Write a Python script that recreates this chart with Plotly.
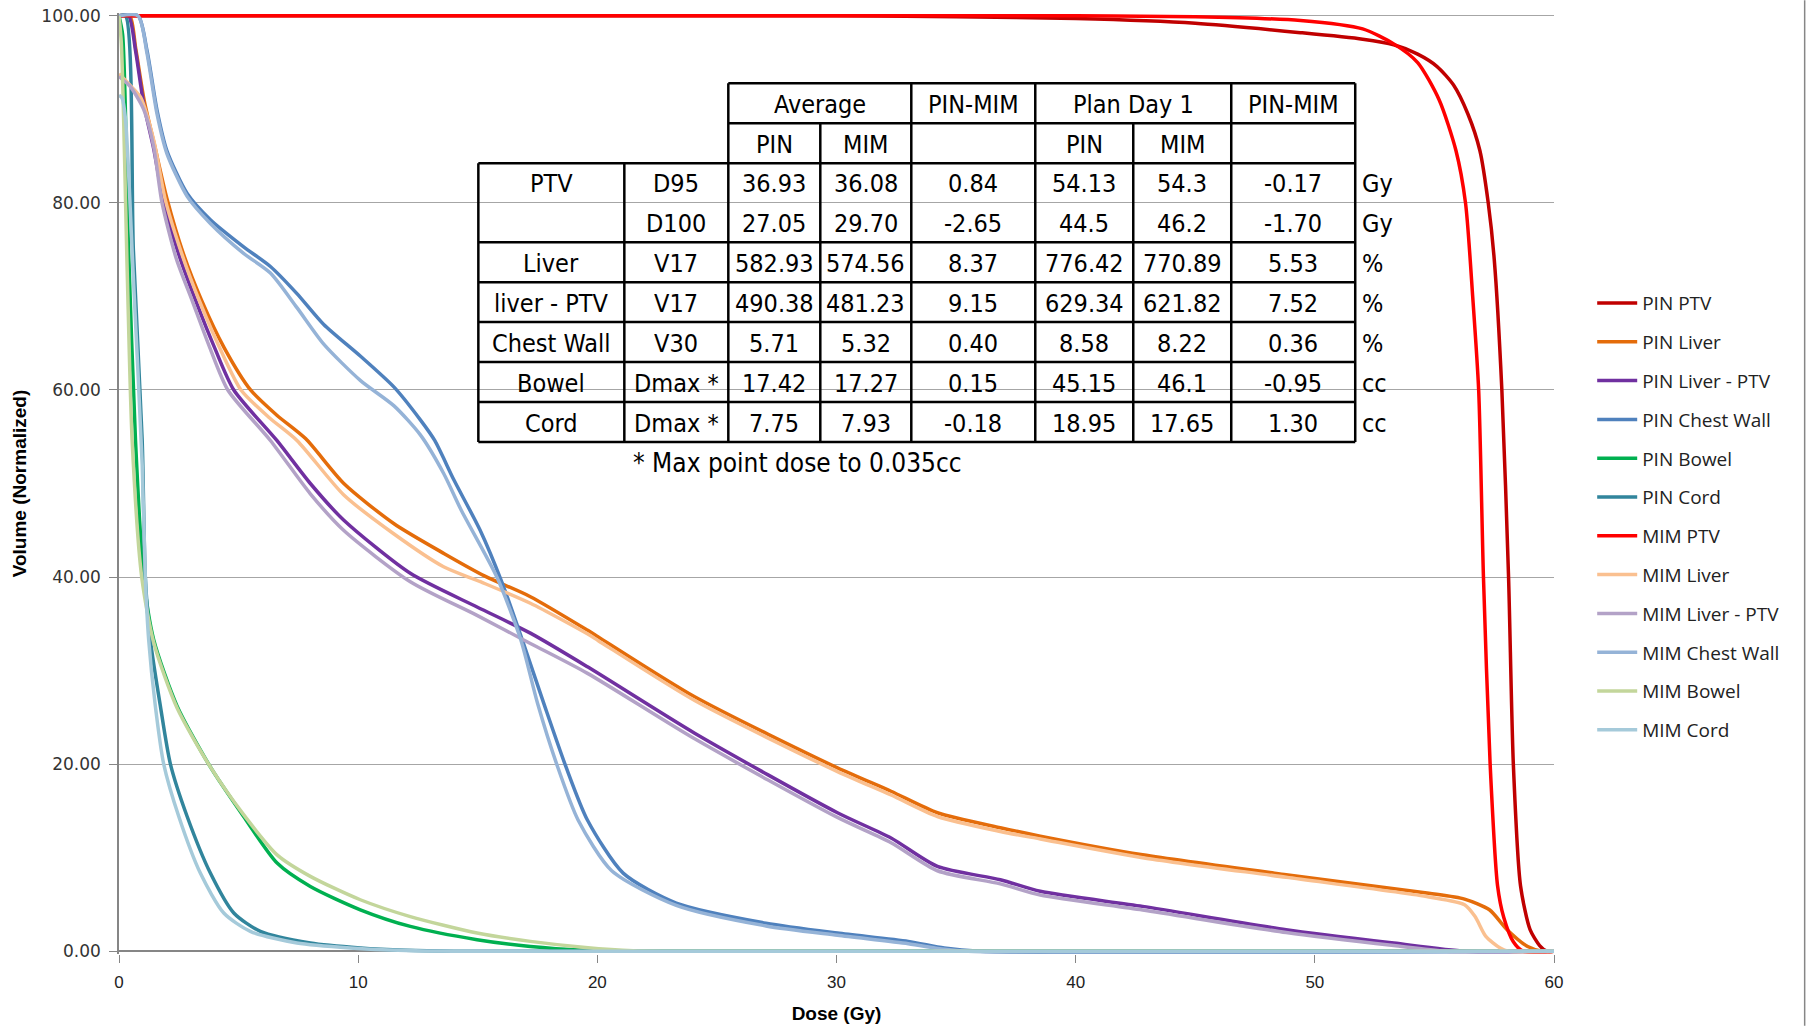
import plotly.graph_objects as go

# ---------------- data ----------------
pin_ptv_dose = [0, 30, 35, 40, 45, 49.4, 52, 53.3, 54.3, 55.1, 55.8, 56.4, 56.9, 57.25, 57.5, 57.82, 58.1, 58.3, 58.6, 59.0, 59.4, 59.7, 60]
pin_ptv_vol = [100, 100, 99.9, 99.7, 99.2, 98.2, 97.5, 96.9, 95.9, 94.6, 92.6, 89.5, 85.6, 80, 74, 60, 40, 20, 7, 2.3, 0.6, 0, 0]

pin_liver_dose = [0, 0.45, 0.7, 1.05, 1.5, 2.0, 2.7, 3.45, 4.4, 5.5, 6.6, 7.8, 9.4, 11.5, 13.6, 15.3, 17.2, 19.6, 20.04, 24.07, 30.04, 32.28, 34.22, 36.85, 38.52, 42.8, 48.8, 54.77, 56.26, 57.3, 58.04, 58.9, 59.5, 60]
pin_liver_vol = [100, 100, 96.5, 91.0, 86.0, 80.5, 74.5, 69.6, 64.5, 60, 57.3, 54.8, 50.0, 45.7, 42.5, 40.1, 37.9, 34.3, 33.6, 27.2, 19.6, 17.1, 14.8, 13.2, 12.3, 10.3, 8.17, 6.2, 5.57, 4.43, 2.3, 0.5, 0, 0]

pin_lptv_dose = [0, 0.4, 0.69, 1.03, 1.45, 1.87, 2.5, 3.2, 4.0, 4.8, 6.6, 8.0, 9.39, 12.18, 14.97, 17.2, 19.59, 24.07, 30.04, 32.28, 34.22, 36.85, 38.52, 42.8, 48.8, 53.3, 56.3, 60]
pin_lptv_vol = [100, 100, 96.3, 90.6, 85.8, 80, 74.5, 69.6, 64.5, 60, 54.6, 50.0, 46.1, 40.4, 36.8, 34.0, 30.4, 23.3, 14.8, 12.1, 9.06, 7.64, 6.4, 4.79, 2.3, 0.87, 0, 0]

pin_cw_dose = [0, 0.8, 1.17, 1.59, 2.0, 2.85, 3.82, 5.21, 6.33, 7.44, 8.56, 10.1, 11.5, 12.6, 13.2, 14.0, 15.1, 16.0, 16.9, 17.8, 18.69, 19.59, 21.08, 23.3, 27.05, 30.04, 33.0, 34.5, 36, 60]
pin_cw_vol = [100, 100, 96.3, 89.9, 85.6, 81, 78.2, 75.3, 73.2, 70.3, 67.0, 63.6, 60.3, 56.8, 54.6, 50.4, 45.0, 39.5, 33, 26.2, 19.7, 14.0, 8.35, 5.15, 3.0, 1.94, 1.05, 0.34, 0, 0]

pin_bowel_dose = [0, 0.15, 0.4, 0.69, 1.03, 1.45, 2.43, 3.82, 5.21, 6.61, 8.0, 10.09, 12.18, 14.97, 17.2, 19.5, 21, 60]
pin_bowel_vol = [100, 98, 75, 54.6, 40, 33.3, 26.2, 19.7, 14.4, 9.42, 6.92, 4.43, 2.65, 1.23, 0.51, 0.1, 0, 0]

pin_cord_dose = [0, 0.27, 0.6, 0.97, 1.1, 1.31, 1.73, 2.15, 2.85, 3.82, 4.8, 5.91, 8.0, 10.09, 12, 14, 60]
pin_cord_vol = [100, 100, 75, 54.6, 40, 33.3, 26.2, 20, 14.4, 8.35, 4.08, 2.12, 0.88, 0.35, 0.1, 0, 0]

mim_ptv_dose = [0, 40, 45, 49.4, 52, 53.3, 54.3, 55.2, 55.9, 56.3, 56.6, 56.85, 57.05, 57.33, 57.64, 57.9, 58.3, 58.7, 60]
mim_ptv_vol = [100, 100, 99.9, 99.5, 98.6, 97.0, 95.0, 91.0, 85.6, 80, 70, 60, 40, 20, 7, 3.6, 1.0, 0, 0]

mim_liver_dose = [0, 0.45, 0.9, 1.45, 1.94, 2.7, 3.35, 4.3, 5.1, 6.3, 7.44, 9.39, 11.5, 13.57, 15.11, 17.2, 19.6, 20.04, 24.07, 30.04, 32.28, 34.22, 36.85, 38.52, 42.8, 48.8, 54.77, 56.26, 56.7, 57.15, 57.75, 58.1, 60]
mim_liver_vol = [93.8, 92.6, 91.3, 86.7, 80.3, 74, 69.6, 64, 60, 57, 54.6, 48.8, 44.6, 41.1, 39.5, 37.2, 33.9, 33.2, 26.8, 19.2, 16.7, 14.4, 12.8, 12.0, 10.0, 7.9, 5.8, 4.97, 3.7, 1.58, 0.34, 0, 0]

mim_lptv_dose = [0, 0.48, 1.03, 1.45, 1.8, 2.4, 3.05, 3.8, 4.55, 6.33, 8.0, 9.39, 12.18, 14.97, 17.2, 19.59, 24.07, 30.04, 32.28, 34.22, 36.85, 38.52, 42.8, 48.8, 53.3, 55.5, 60]
mim_lptv_vol = [93.5, 92.4, 90.0, 86, 80, 74, 69.6, 64.5, 60, 54.6, 48.9, 45.0, 39.5, 35.9, 32.9, 29.7, 22.7, 14.3, 11.6, 8.6, 7.2, 6.0, 4.4, 2.0, 0.6, 0, 0]

mim_cw_dose = [0, 0.8, 1.17, 1.59, 2.0, 2.85, 3.82, 5.21, 6.33, 7.44, 8.56, 10.1, 11.5, 12.6, 13.57, 14.3, 15.8, 16.8, 17.5, 18.3, 19.2, 20.6, 23.3, 27.05, 30.04, 33.0, 34.5, 35.5, 60]
mim_cw_vol = [100, 100, 96, 89.5, 85.3, 80.7, 77.8, 74.6, 72.5, 68.8, 64.9, 61.0, 58.3, 55.2, 51.1, 47.2, 40, 33.3, 26.5, 20, 14, 8.6, 4.9, 2.7, 1.7, 0.8, 0.2, 0, 0]

mim_bowel_dose = [0, 0.1, 0.35, 0.55, 0.95, 1.45, 2.43, 3.82, 5.21, 6.61, 8.0, 10.09, 12.18, 14.97, 17.2, 19.5, 21.5, 23, 60]
mim_bowel_vol = [100, 97, 72, 54.6, 40, 33.0, 26.0, 19.7, 14.6, 10.3, 8.0, 5.5, 3.7, 1.94, 1.05, 0.4, 0.05, 0, 0]

mim_cord_dose = [0, 0.13, 0.27, 0.6, 0.97, 1.1, 1.24, 1.52, 1.87, 2.5, 3.4, 4.38, 5.49, 7.44, 9.67, 12, 14, 60]
mim_cord_vol = [91.5, 91.2, 89, 72, 52, 40, 33.3, 26.2, 20, 14.4, 8.35, 4.08, 2.12, 0.88, 0.35, 0.08, 0, 0]

series_names = ["PIN PTV", "PIN Liver", "PIN Liver - PTV", "PIN Chest Wall", "PIN Bowel", "PIN Cord",
                "MIM PTV", "MIM Liver", "MIM Liver - PTV", "MIM Chest Wall", "MIM Bowel", "MIM Cord"]
series_dose = [pin_ptv_dose, pin_liver_dose, pin_lptv_dose, pin_cw_dose, pin_bowel_dose, pin_cord_dose,
               mim_ptv_dose, mim_liver_dose, mim_lptv_dose, mim_cw_dose, mim_bowel_dose, mim_cord_dose]
series_vol = [pin_ptv_vol, pin_liver_vol, pin_lptv_vol, pin_cw_vol, pin_bowel_vol, pin_cord_vol,
              mim_ptv_vol, mim_liver_vol, mim_lptv_vol, mim_cw_vol, mim_bowel_vol, mim_cord_vol]
series_colors = ["#C00000", "#E46C0A", "#7030A0", "#4F81BD", "#00B050", "#31859C",
                 "#FF0000", "#FAC090", "#B3A2C7", "#95B3D7", "#C3D69B", "#A5CADA"]

x_ticks = [0, 10, 20, 30, 40, 50, 60]
y_ticks = [0, 20, 40, 60, 80, 100]

# table content
tbl_header1 = ["Average", "PIN-MIM", "Plan Day 1", "PIN-MIM"]
tbl_header2 = ["PIN", "MIM", "", "PIN", "MIM", ""]
tbl_struct = ["PTV", "", "Liver", "liver - PTV", "Chest Wall", "Bowel", "Cord"]
tbl_metric = ["D95", "D100", "V17", "V17", "V30", "Dmax *", "Dmax *"]
tbl_avg_pin = ["36.93", "27.05", "582.93", "490.38", "5.71", "17.42", "7.75"]
tbl_avg_mim = ["36.08", "29.70", "574.56", "481.23", "5.32", "17.27", "7.93"]
tbl_avg_diff = ["0.84", "-2.65", "8.37", "9.15", "0.40", "0.15", "-0.18"]
tbl_d1_pin = ["54.13", "44.5", "776.42", "629.34", "8.58", "45.15", "18.95"]
tbl_d1_mim = ["54.3", "46.2", "770.89", "621.82", "8.22", "46.1", "17.65"]
tbl_d1_diff = ["-0.17", "-1.70", "5.53", "7.52", "0.36", "-0.95", "1.30"]
tbl_units = ["Gy", "Gy", "%", "%", "%", "cc", "cc"]
footnote = "* Max point dose to 0.035cc"

# ---------------- layout geometry (pixels) ----------------
W, H = 1806, 1026
L, R = 118.6, 1553.8
T, B = 12.7, 954.3


def px(X):
    return (X - L) / (R - L)


def py(Y):
    return (B - Y) / (B - T)


fig = go.Figure()
for name, xs, ys, col in zip(series_names, series_dose, series_vol, series_colors):
    fig.add_trace(go.Scatter(x=xs, y=ys, name=name, mode="lines", legendgroup=name,
                             line=dict(color=col, width=3.5, shape="spline", smoothing=0.7)))

shapes = []
annots = []
TBL_FONT = "Liberation Sans Narrow, DejaVu Sans Condensed, Liberation Sans, sans-serif"
FS = 25

# white backdrop of the embedded table
shapes.append(dict(type="rect", xref="paper", yref="paper", x0=px(476), x1=px(1402), y0=py(486), y1=py(60),
                   fillcolor="white", line=dict(width=0), layer="between"))

col_x = [478, 624, 728, 820, 911, 1035, 1133, 1231, 1355]
row_y = [83, 123, 163, 202, 242, 282, 322, 362, 402, 442]
LW = 2.5


def hline(y, x0, x1, w=LW):
    shapes.append(dict(type="line", xref="paper", yref="paper", x0=px(x0), x1=px(x1), y0=py(y), y1=py(y),
                       line=dict(color="black", width=w), layer="above"))


def vline(x, y0, y1, w=LW):
    shapes.append(dict(type="line", xref="paper", yref="paper", x0=px(x), x1=px(x), y0=py(y0), y1=py(y1),
                       line=dict(color="black", width=w), layer="above"))


hline(83, 728, 1355)
hline(123, 728, 1355)
for y in [163, 242, 282, 322, 362, 402, 442]:
    hline(y, 478, 1355)
vline(478, 163, 442)
vline(624, 163, 442)
for x in [728, 911, 1035, 1231, 1355]:
    vline(x, 83, 442)
for x in [820, 1133]:
    vline(x, 123, 442)


def text(X, Y, s, anchor="center", size=FS):
    annots.append(dict(xref="paper", yref="paper", x=px(X), y=py(Y), text=s, showarrow=False,
                       xanchor=anchor, yanchor="middle", font=dict(family=TBL_FONT, size=size, color="black")))


# headers
h1_spans = [(728, 911), (911, 1035), (1035, 1231), (1231, 1355)]
for s, (a, b) in zip(tbl_header1, h1_spans):
    text((a + b) / 2, 104, s)
h2_spans = [(728, 820), (820, 911), (911, 1035), (1035, 1133), (1133, 1231), (1231, 1355)]
for s, (a, b) in zip(tbl_header2, h2_spans):
    if s:
        text((a + b) / 2, 144, s)

row_centers = [(row_y[i + 2] + row_y[i + 3]) / 2 + 1 for i in range(7)]
cols = [tbl_struct, tbl_metric, tbl_avg_pin, tbl_avg_mim, tbl_avg_diff, tbl_d1_pin, tbl_d1_mim, tbl_d1_diff]
for ci, colvals in enumerate(cols):
    cx = (col_x[ci] + col_x[ci + 1]) / 2
    for ri, s in enumerate(colvals):
        if s:
            text(cx, row_centers[ri], s)
for ri, s in enumerate(tbl_units):
    text(1360, row_centers[ri], s, anchor="left")
text(631, 463, footnote, anchor="left", size=26)

# outer chart border (right edge)
shapes.append(dict(type="line", xref="paper", yref="paper", x0=px(1804.5), x1=px(1804.5), y0=py(0), y1=py(1026),
                   line=dict(color="#868686", width=1.5), layer="above"))

fig.update_layout(
    width=W, height=H,
    margin=dict(l=L, r=W - R, t=T, b=H - B, autoexpand=False),
    paper_bgcolor="white", plot_bgcolor="white",
    shapes=shapes, annotations=annots,
    showlegend=True,
    legend=dict(x=px(1592), y=py(284), xanchor="left", yanchor="top", traceorder="grouped",
                tracegroupgap=11.1, itemwidth=40, bgcolor="rgba(0,0,0,0)",
                font=dict(family="Open Sans, sans-serif", size=19, color="#222222")),
    xaxis=dict(range=[0, 60], tickvals=x_ticks, ticktext=[str(v) for v in x_ticks],
               showgrid=False, zeroline=False, showline=False,
               ticks="outside", ticklen=8, tickcolor="#868686", tickwidth=1, ticklabelstandoff=5,
               tickfont=dict(family="Liberation Sans Narrow, Liberation Sans, sans-serif", size=17, color="#222222"),
               title=dict(text="<b>Dose (Gy)</b>", standoff=15,
                          font=dict(family="Liberation Sans Narrow, Liberation Sans, sans-serif", size=19, color="black"))),
    yaxis=dict(range=[-0.3, 100.3], tickvals=y_ticks, tickformat=".2f",
               showgrid=True, gridcolor="#A6A6A6", gridwidth=1,
               zeroline=True, zerolinecolor="#868686", zerolinewidth=1.5,
               showline=True, linecolor="#868686", linewidth=1.5,
               ticks="outside", ticklen=8, tickcolor="#868686", tickwidth=1, ticklabelstandoff=5,
               tickfont=dict(family="DejaVu Sans, sans-serif", size=17, color="#333333"),
               title=dict(text="<b>Volume (Normalized)</b>", standoff=10,
                          font=dict(family="Liberation Sans Narrow, Liberation Sans, sans-serif", size=19, color="black"))),
)

fig.write_html("out.html")
